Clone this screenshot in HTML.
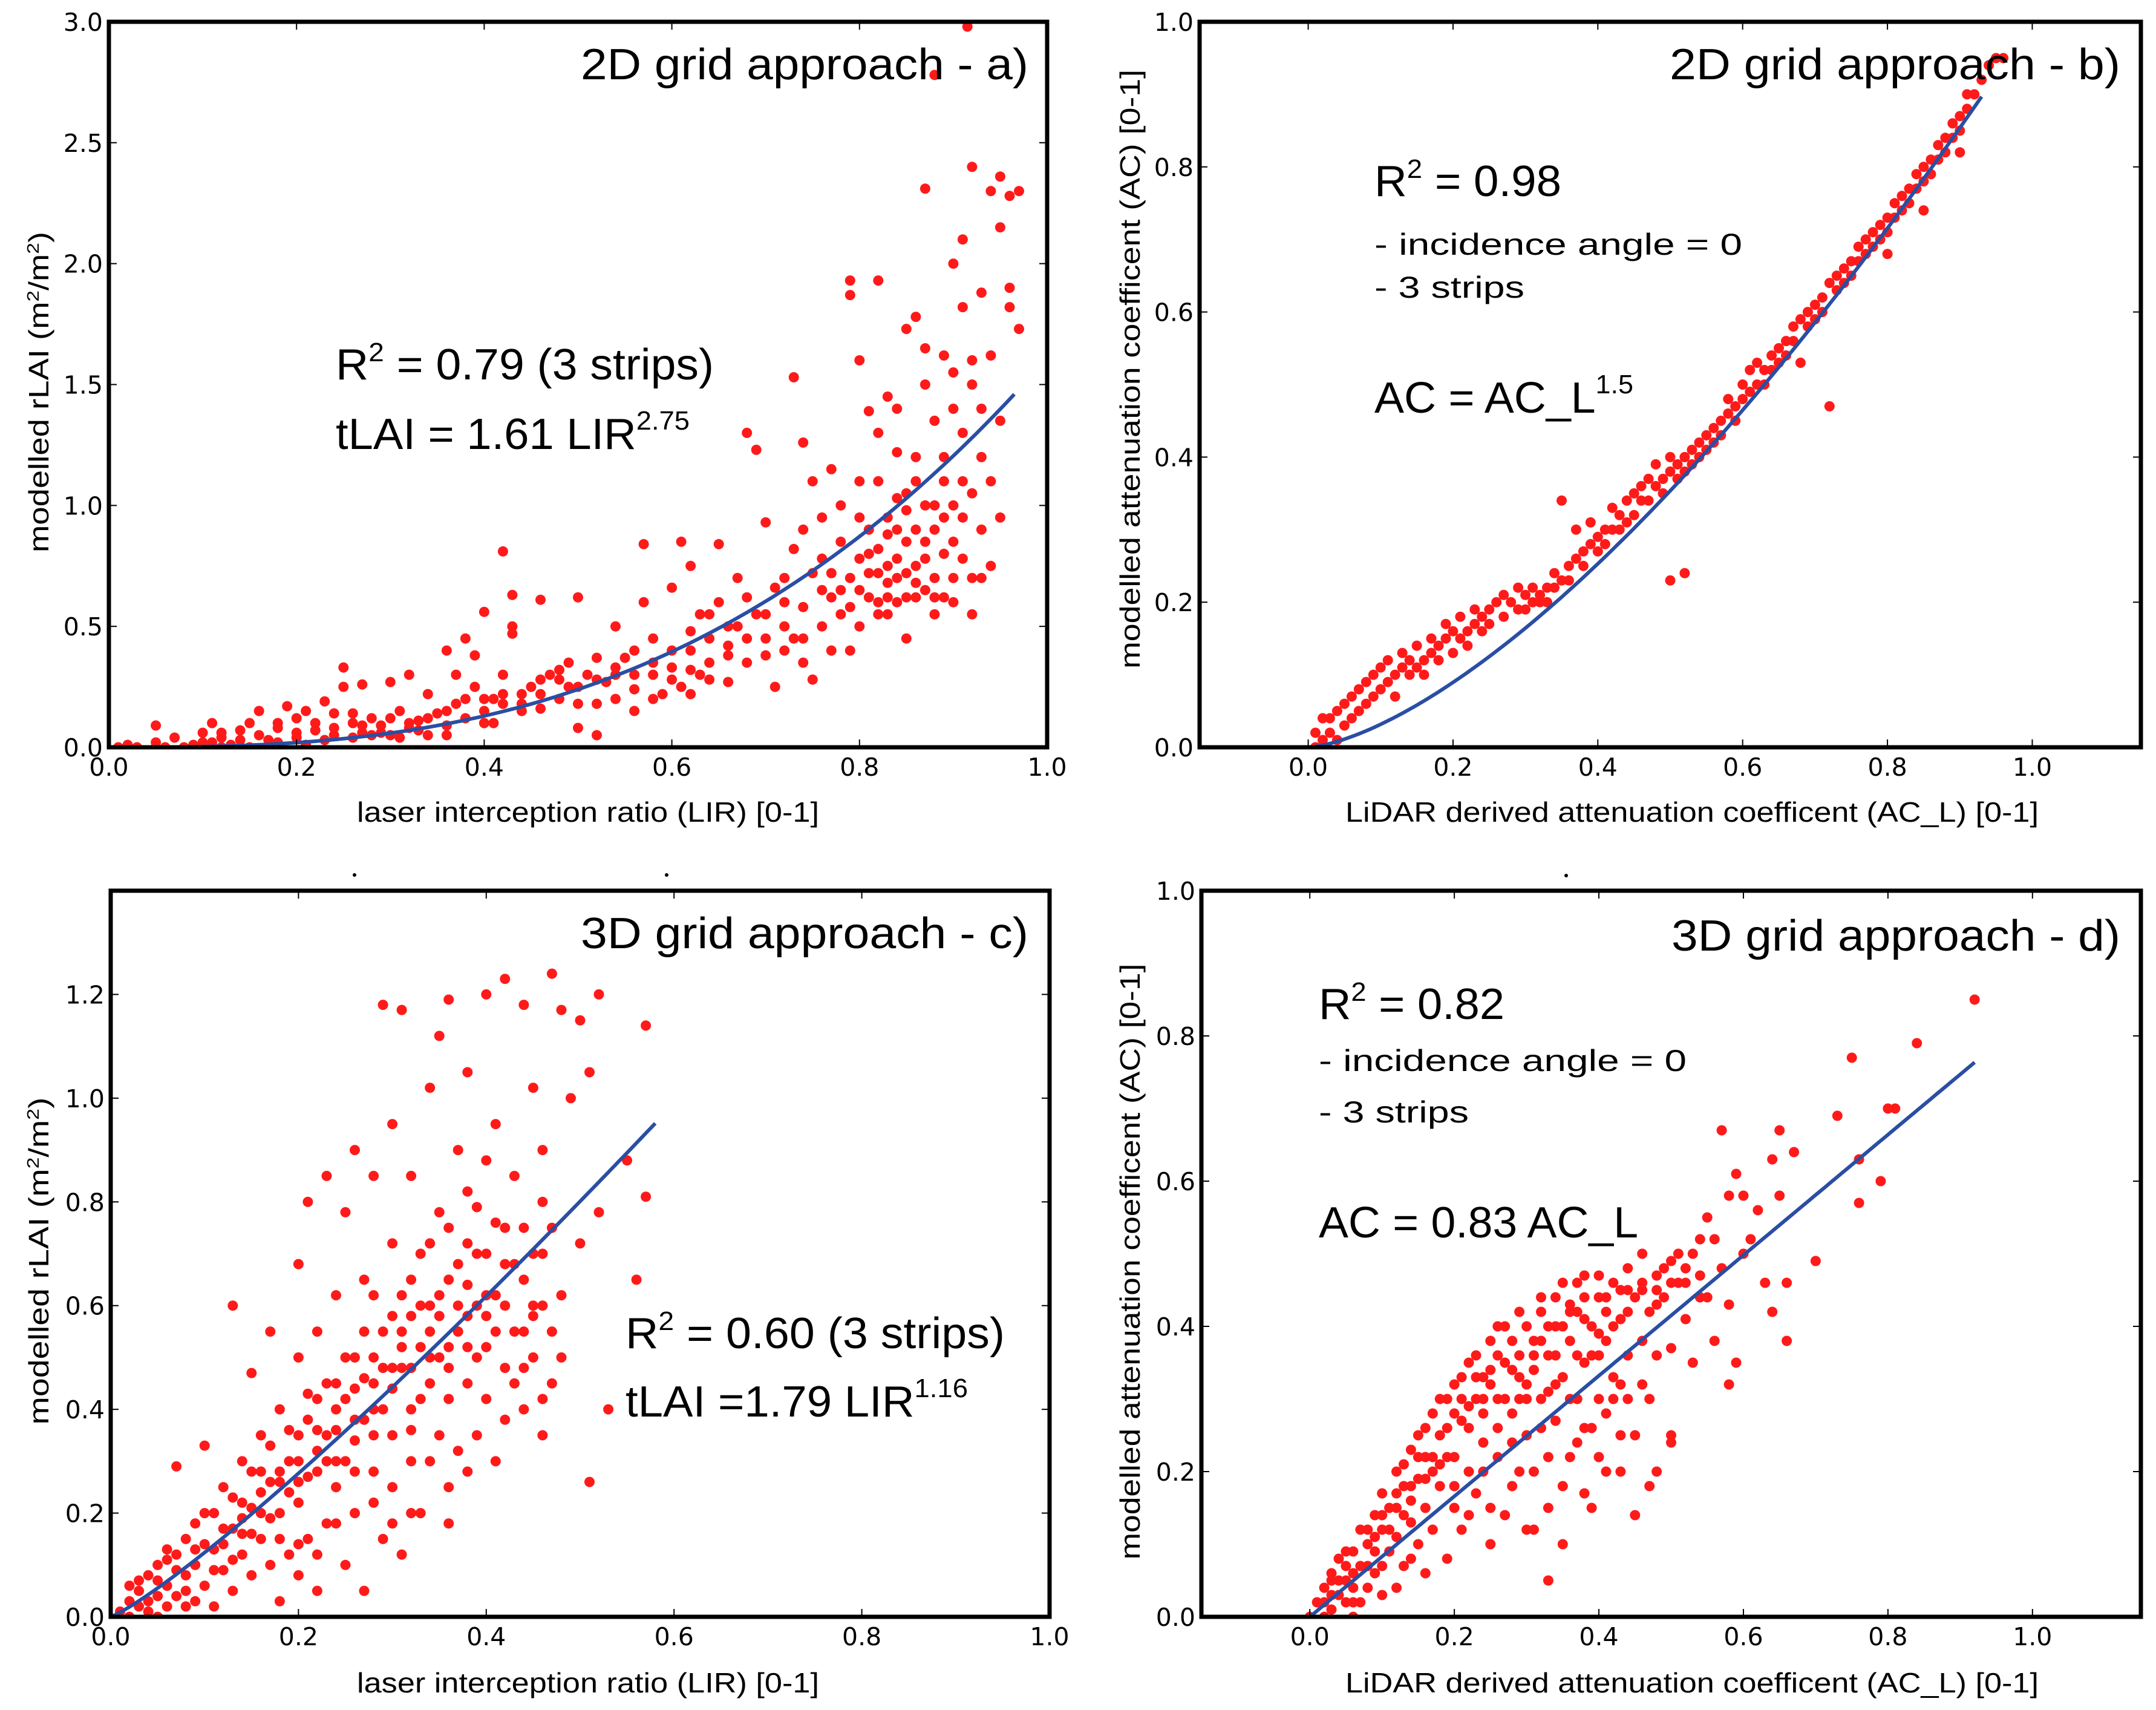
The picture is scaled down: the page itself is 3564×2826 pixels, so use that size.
<!DOCTYPE html>
<html><head><meta charset="utf-8"><style>
html,body{margin:0;padding:0;background:#fff;}
svg{display:block;}
.tk{font-family:"DejaVu Sans",sans-serif;font-size:41px;fill:#000;}
.lab{font-family:"Liberation Sans",sans-serif;font-size:46px;fill:#000;}
.big{font-family:"Liberation Sans",sans-serif;font-size:72px;fill:#000;}
.mid{font-family:"Liberation Sans",sans-serif;font-size:50px;fill:#000;}
</style></head><body>
<svg id="fig" width="3564" height="2826" viewBox="0 0 3564 2826" xmlns="http://www.w3.org/2000/svg">
<g id="layer"></g>
<circle cx="586" cy="1446" r="3" fill="#000"/>
<circle cx="1102" cy="1446" r="3" fill="#000"/>
<circle cx="2589" cy="1447" r="3" fill="#000"/>

<text class="big" x="1700" y="131" text-anchor="end" textLength="740" lengthAdjust="spacingAndGlyphs">2D grid approach - a)</text>
<text class="big" x="555" y="627" textLength="625" lengthAdjust="spacingAndGlyphs">R<tspan font-size="44" dy="-30">2</tspan><tspan dy="30"> = 0.79 (3 strips)</tspan></text>
<text class="big" x="555" y="742" textLength="585" lengthAdjust="spacingAndGlyphs">tLAI = 1.61 LIR<tspan font-size="44" dy="-32">2.75</tspan></text>
<text class="lab" x="972" y="1358" text-anchor="middle" textLength="764" lengthAdjust="spacingAndGlyphs">laser interception ratio (LIR) [0-1]</text>
<text class="lab" transform="translate(80,648) rotate(-90)" text-anchor="middle" textLength="530" lengthAdjust="spacingAndGlyphs">modelled  rLAI (m<tspan font-size="28" dy="-16">2</tspan><tspan dy="16">/m</tspan><tspan font-size="28" dy="-16">2</tspan><tspan dy="16">)</tspan></text>

<text class="big" x="3505" y="131" text-anchor="end" textLength="745" lengthAdjust="spacingAndGlyphs">2D grid approach - b)</text>
<text class="big" x="2272" y="324" textLength="309" lengthAdjust="spacingAndGlyphs">R<tspan font-size="44" dy="-30">2</tspan><tspan dy="30"> = 0.98</tspan></text>
<text class="mid" x="2272" y="421" textLength="608" lengthAdjust="spacingAndGlyphs">- incidence angle = 0</text>
<text class="mid" x="2272" y="492" textLength="248" lengthAdjust="spacingAndGlyphs">- 3 strips</text>
<text class="big" x="2272" y="682" textLength="428" lengthAdjust="spacingAndGlyphs">AC = AC_L<tspan font-size="44" dy="-32">1.5</tspan></text>
<text class="lab" x="2797" y="1358" text-anchor="middle" textLength="1146" lengthAdjust="spacingAndGlyphs">LiDAR derived attenuation coefficent (AC_L) [0-1]</text>
<text class="lab" transform="translate(1884,610) rotate(-90)" text-anchor="middle" textLength="990" lengthAdjust="spacingAndGlyphs">modelled attenuation coefficent (AC) [0-1]</text>

<text class="big" x="1700" y="1567" text-anchor="end" textLength="740" lengthAdjust="spacingAndGlyphs">3D grid approach - c)</text>
<text class="big" x="1034" y="2228" textLength="627" lengthAdjust="spacingAndGlyphs">R<tspan font-size="44" dy="-30">2</tspan><tspan dy="30"> = 0.60 (3 strips)</tspan></text>
<text class="big" x="1034" y="2341" textLength="566" lengthAdjust="spacingAndGlyphs">tLAI =1.79 LIR<tspan font-size="44" dy="-32">1.16</tspan></text>
<text class="lab" x="972" y="2797" text-anchor="middle" textLength="764" lengthAdjust="spacingAndGlyphs">laser interception ratio (LIR) [0-1]</text>
<text class="lab" transform="translate(80,2084) rotate(-90)" text-anchor="middle" textLength="541" lengthAdjust="spacingAndGlyphs">modelled rLAI (m<tspan font-size="28" dy="-16">2</tspan><tspan dy="16">/m</tspan><tspan font-size="28" dy="-16">2</tspan><tspan dy="16">)</tspan></text>

<text class="big" x="3505" y="1571" text-anchor="end" textLength="742" lengthAdjust="spacingAndGlyphs">3D grid approach - d)</text>
<text class="big" x="2180" y="1684" textLength="307" lengthAdjust="spacingAndGlyphs">R<tspan font-size="44" dy="-30">2</tspan><tspan dy="30"> = 0.82</tspan></text>
<text class="mid" x="2180" y="1770" textLength="608" lengthAdjust="spacingAndGlyphs">- incidence angle = 0</text>
<text class="mid" x="2180" y="1855" textLength="248" lengthAdjust="spacingAndGlyphs">- 3 strips</text>
<text class="big" x="2180" y="2045" textLength="528" lengthAdjust="spacingAndGlyphs">AC = 0.83 AC_L</text>
<text class="lab" x="2797" y="2797" text-anchor="middle" textLength="1146" lengthAdjust="spacingAndGlyphs">LiDAR derived attenuation coefficent (AC_L) [0-1]</text>
<text class="lab" transform="translate(1884,2085) rotate(-90)" text-anchor="middle" textLength="985" lengthAdjust="spacingAndGlyphs">modelled attenuation coefficent (AC) [0-1]</text>
</svg>
<script>
const xTicksA=[0,0.2,0.4,0.6,0.8,1.0];
const xTickLabelsA=["0.0","0.2","0.4","0.6","0.8","1.0"];
const yTicksA=[0,0.5,1.0,1.5,2.0,2.5,3.0];
const yTickLabelsA=["0.0","0.5","1.0","1.5","2.0","2.5","3.0"];
const yTicksC=[0,0.2,0.4,0.6,0.8,1.0,1.2];
const yTickLabelsC=["0.0","0.2","0.4","0.6","0.8","1.0","1.2"];
const yTicksB=[0,0.2,0.4,0.6,0.8,1.0];
const yTickLabelsB=["0.0","0.2","0.4","0.6","0.8","1.0"];
const fitA=[1.61,2.75,0.965];
const fitB=[1.0,1.5,0.93];
const fitC=[1.79,1.16,0.58];
const fitD=[0.83,1.0,0.92];

const pointsA=[[0.02,0.01],[0.03,0.0],[0.05,0.02],[0.05,0.09],[0.07,0.04],[0.08,0.0],[0.1,0.06],[0.11,0.02],[0.11,0.1],[0.12,0.04],[0.13,0.01],[0.14,0.07],[0.15,0.1],[0.16,0.15],[0.17,0.03],[0.18,0.08],[0.19,0.17],[0.2,0.12],[0.2,0.04],[0.21,0.15],[0.22,0.07],[0.23,0.19],[0.24,0.14],[0.24,0.05],[0.25,0.25],[0.25,0.33],[0.26,0.1],[0.27,0.26],[0.27,0.06],[0.28,0.12],[0.29,0.09],[0.3,0.05],[0.3,0.27],[0.31,0.15],[0.32,0.3],[0.32,0.08],[0.33,0.11],[0.34,0.22],[0.34,0.05],[0.35,0.14],[0.36,0.4],[0.36,0.09],[0.37,0.3],[0.37,0.18],[0.38,0.45],[0.38,0.12],[0.39,0.25],[0.39,0.38],[0.4,0.15],[0.4,0.56],[0.41,0.2],[0.41,0.1],[0.42,0.81],[0.42,0.3],[0.43,0.63],[0.43,0.5],[0.43,0.47],[0.44,0.22],[0.45,0.25],[0.46,0.61],[0.46,0.16],[0.47,0.3],[0.48,0.2],[0.49,0.35],[0.49,0.25],[0.5,0.62],[0.5,0.18],[0.5,0.08],[0.51,0.3],[0.52,0.05],[0.52,0.37],[0.53,0.27],[0.54,0.5],[0.54,0.2],[0.55,0.37],[0.56,0.3],[0.56,0.15],[0.57,0.84],[0.57,0.6],[0.58,0.45],[0.58,0.3],[0.59,0.22],[0.6,0.33],[0.6,0.66],[0.61,0.85],[0.61,0.25],[0.62,0.4],[0.62,0.75],[0.62,0.22],[0.63,0.55],[0.63,0.3],[0.64,0.35],[0.64,0.45],[0.65,0.84],[0.65,0.6],[0.66,0.38],[0.66,0.27],[0.67,0.5],[0.67,0.7],[0.68,0.35],[0.68,1.3],[0.69,1.23],[0.69,0.55],[0.7,0.93],[0.7,0.45],[0.71,0.25],[0.71,0.66],[0.72,0.5],[0.72,0.7],[0.73,1.53],[0.73,0.82],[0.73,0.45],[0.74,1.26],[0.74,0.35],[0.74,0.58],[0.75,1.1],[0.75,0.72],[0.75,0.28],[0.76,0.95],[0.76,0.5],[0.77,1.15],[0.77,0.62],[0.77,0.4],[0.78,0.85],[0.78,0.55],[0.78,1.0],[0.79,1.87],[0.79,1.93],[0.79,0.7],[0.79,0.4],[0.8,1.6],[0.8,1.1],[0.8,0.5],[0.81,1.39],[0.81,0.9],[0.81,0.72],[0.82,1.93],[0.82,0.6],[0.82,1.3],[0.83,1.45],[0.83,0.75],[0.83,0.55],[0.84,1.03],[0.84,0.7],[0.84,1.22],[0.85,1.73],[0.85,0.85],[0.85,0.45],[0.86,1.78],[0.86,0.75],[0.86,1.1],[0.87,2.31],[0.87,1.65],[0.87,0.65],[0.88,1.35],[0.88,0.9],[0.88,0.55],[0.89,1.62],[0.89,0.8],[0.89,1.2],[0.9,2.0],[0.9,1.55],[0.9,1.0],[0.9,0.7],[0.91,2.1],[0.91,1.82],[0.91,0.78],[0.91,1.3],[0.92,2.4],[0.92,1.5],[0.92,0.55],[0.92,1.05],[0.93,1.88],[0.93,0.9],[0.93,1.4],[0.94,2.3],[0.94,1.62],[0.94,0.75],[0.95,2.36],[0.95,2.15],[0.95,1.35],[0.95,0.95],[0.96,2.28],[0.96,1.9],[0.96,1.82],[0.97,2.3],[0.97,1.73],[0.93,0.7],[0.915,2.98],[0.88,2.78],[0.8,0.78],[0.81,0.62],[0.82,0.82],[0.83,0.68],[0.84,0.6],[0.85,0.72],[0.86,0.9],[0.87,0.78],[0.88,0.7],[0.89,0.62],[0.9,0.85],[0.82,0.72],[0.84,0.78],[0.86,0.62],[0.83,0.88],[0.85,0.98],[0.87,1.0],[0.89,1.1],[0.91,0.95],[0.79,0.58],[0.77,0.72],[0.76,0.65],[0.74,0.45],[0.72,0.4],[0.7,0.38],[0.68,0.45],[0.66,0.5],[0.64,0.28],[0.62,0.32],[0.6,0.28],[0.58,0.2],[0.56,0.24],[0.54,0.3],[0.52,0.18],[0.48,0.28],[0.46,0.22],[0.44,0.15],[0.42,0.18],[0.4,0.1],[0.36,0.05],[0.33,0.07],[0.31,0.04],[0.29,0.06],[0.27,0.09],[0.26,0.04],[0.23,0.03],[0.21,0.01],[0.18,0.02],[0.15,0.0],[0.12,0.0],[0.09,0.01],[0.06,0.0],[0.01,0.0],[0.8,0.65],[0.81,0.8],[0.82,0.55],[0.83,0.62],[0.84,0.9],[0.85,0.62],[0.86,0.68],[0.87,0.85],[0.88,0.62],[0.89,0.95],[0.9,0.6],[0.91,1.1],[0.92,0.7],[0.93,1.2],[0.94,1.1],[0.8,0.95],[0.78,0.65],[0.76,0.78],[0.74,0.9],[0.72,0.6],[0.7,0.55],[0.68,0.62],[0.66,0.42],[0.64,0.55],[0.62,0.48],[0.6,0.4],[0.58,0.35],[0.56,0.4],[0.54,0.33],[0.52,0.28],[0.5,0.25],[0.48,0.32],[0.46,0.28],[0.44,0.18],[0.42,0.22],[0.4,0.2],[0.38,0.2],[0.36,0.15],[0.34,0.12],[0.32,0.1],[0.3,0.12],[0.28,0.05],[0.26,0.14],[0.24,0.08],[0.22,0.1],[0.2,0.06],[0.18,0.1],[0.16,0.05],[0.14,0.03],[0.12,0.06],[0.1,0.02],[0.88,1.0],[0.86,1.2],[0.84,1.4],[0.82,1.1],[0.9,1.4],[0.92,1.6],[0.87,1.5],[0.83,0.95],[0.85,1.05]];

const pointsB=[[0.01,0.0],[0.01,0.02],[0.02,0.01],[0.02,0.04],[0.03,0.02],[0.03,0.04],[0.04,0.01],[0.04,0.05],[0.05,0.03],[0.05,0.06],[0.06,0.04],[0.06,0.07],[0.07,0.05],[0.07,0.08],[0.08,0.06],[0.08,0.09],[0.09,0.07],[0.09,0.1],[0.1,0.08],[0.1,0.11],[0.11,0.09],[0.11,0.12],[0.12,0.1],[0.12,0.07],[0.13,0.11],[0.13,0.13],[0.14,0.1],[0.14,0.12],[0.15,0.11],[0.15,0.14],[0.16,0.12],[0.16,0.1],[0.17,0.13],[0.17,0.15],[0.18,0.12],[0.18,0.14],[0.19,0.15],[0.19,0.17],[0.2,0.13],[0.2,0.16],[0.21,0.15],[0.21,0.18],[0.22,0.16],[0.22,0.14],[0.23,0.17],[0.23,0.19],[0.24,0.16],[0.24,0.18],[0.25,0.19],[0.25,0.17],[0.26,0.2],[0.27,0.18],[0.27,0.21],[0.28,0.2],[0.29,0.22],[0.29,0.19],[0.3,0.21],[0.3,0.19],[0.31,0.2],[0.31,0.22],[0.32,0.21],[0.32,0.2],[0.33,0.22],[0.33,0.2],[0.34,0.22],[0.34,0.24],[0.35,0.23],[0.35,0.34],[0.36,0.25],[0.36,0.23],[0.37,0.26],[0.37,0.3],[0.38,0.27],[0.38,0.25],[0.39,0.28],[0.39,0.31],[0.4,0.27],[0.4,0.29],[0.41,0.3],[0.41,0.28],[0.42,0.3],[0.42,0.33],[0.43,0.3],[0.43,0.32],[0.44,0.31],[0.44,0.34],[0.45,0.32],[0.45,0.35],[0.46,0.34],[0.46,0.36],[0.47,0.34],[0.47,0.37],[0.48,0.36],[0.48,0.39],[0.49,0.37],[0.49,0.35],[0.5,0.38],[0.5,0.4],[0.5,0.23],[0.52,0.24],[0.51,0.39],[0.51,0.37],[0.52,0.4],[0.52,0.38],[0.53,0.41],[0.53,0.39],[0.54,0.42],[0.54,0.4],[0.55,0.43],[0.55,0.41],[0.56,0.44],[0.56,0.42],[0.57,0.45],[0.57,0.43],[0.58,0.46],[0.58,0.48],[0.59,0.47],[0.59,0.45],[0.6,0.48],[0.6,0.5],[0.61,0.49],[0.61,0.52],[0.62,0.5],[0.62,0.53],[0.63,0.52],[0.63,0.5],[0.64,0.54],[0.64,0.52],[0.65,0.55],[0.65,0.53],[0.66,0.56],[0.66,0.54],[0.67,0.58],[0.67,0.56],[0.68,0.59],[0.68,0.53],[0.69,0.6],[0.69,0.58],[0.7,0.61],[0.7,0.59],[0.71,0.62],[0.71,0.6],[0.72,0.64],[0.72,0.47],[0.73,0.65],[0.73,0.63],[0.74,0.66],[0.74,0.64],[0.75,0.67],[0.75,0.65],[0.76,0.69],[0.76,0.67],[0.77,0.7],[0.77,0.68],[0.78,0.71],[0.78,0.69],[0.79,0.72],[0.79,0.7],[0.8,0.73],[0.8,0.71],[0.81,0.75],[0.81,0.73],[0.82,0.76],[0.82,0.74],[0.83,0.77],[0.83,0.75],[0.84,0.79],[0.84,0.77],[0.85,0.8],[0.85,0.78],[0.86,0.81],[0.86,0.79],[0.87,0.83],[0.87,0.81],[0.88,0.84],[0.88,0.82],[0.89,0.86],[0.89,0.84],[0.9,0.87],[0.9,0.85],[0.91,0.88],[0.91,0.9],[0.92,0.9],[0.93,0.92],[0.94,0.94],[0.95,0.95],[0.96,0.95],[0.8,0.68],[0.85,0.74],[0.9,0.82]];

const pointsC=[[0.01,0.01],[0.02,0.03],[0.02,0.0],[0.03,0.05],[0.03,0.02],[0.04,0.08],[0.04,0.01],[0.05,0.04],[0.05,0.1],[0.06,0.06],[0.06,0.02],[0.07,0.12],[0.07,0.29],[0.07,0.04],[0.08,0.08],[0.08,0.15],[0.09,0.03],[0.09,0.1],[0.1,0.2],[0.1,0.33],[0.1,0.06],[0.11,0.13],[0.11,0.02],[0.12,0.25],[0.12,0.09],[0.13,0.6],[0.13,0.17],[0.13,0.05],[0.14,0.3],[0.14,0.12],[0.15,0.47],[0.15,0.21],[0.15,0.08],[0.16,0.35],[0.16,0.15],[0.17,0.26],[0.17,0.55],[0.17,0.1],[0.18,0.4],[0.18,0.2],[0.18,0.03],[0.19,0.3],[0.19,0.12],[0.2,0.5],[0.2,0.68],[0.2,0.22],[0.2,0.08],[0.21,0.38],[0.21,0.15],[0.21,0.8],[0.22,0.28],[0.22,0.55],[0.22,0.05],[0.23,0.85],[0.23,0.35],[0.23,0.18],[0.24,0.45],[0.24,0.25],[0.24,0.62],[0.25,0.78],[0.25,0.1],[0.25,0.3],[0.26,0.9],[0.26,0.5],[0.26,0.2],[0.27,0.38],[0.27,0.65],[0.27,0.05],[0.28,0.85],[0.28,0.28],[0.28,0.45],[0.29,1.18],[0.29,0.55],[0.29,0.15],[0.3,0.35],[0.3,0.72],[0.3,0.95],[0.3,0.25],[0.31,1.17],[0.31,0.48],[0.31,0.62],[0.31,0.12],[0.32,0.85],[0.32,0.4],[0.32,0.3],[0.33,0.7],[0.33,0.52],[0.33,0.2],[0.34,1.02],[0.34,0.45],[0.34,0.6],[0.35,1.12],[0.35,0.35],[0.35,0.78],[0.35,0.5],[0.36,1.19],[0.36,0.65],[0.36,0.42],[0.36,0.25],[0.37,0.9],[0.37,0.55],[0.37,0.32],[0.38,1.05],[0.38,0.72],[0.38,0.45],[0.39,0.79],[0.39,0.6],[0.39,0.35],[0.4,1.2],[0.4,0.52],[0.4,0.7],[0.41,0.95],[0.41,0.62],[0.41,0.3],[0.42,1.23],[0.42,0.48],[0.42,0.75],[0.43,0.85],[0.43,0.55],[0.44,1.18],[0.44,0.65],[0.44,0.4],[0.45,1.02],[0.45,0.7],[0.45,0.5],[0.46,0.9],[0.46,0.6],[0.46,0.35],[0.47,1.24],[0.47,0.75],[0.47,0.45],[0.48,1.17],[0.48,0.62],[0.49,1.0],[0.5,1.15],[0.5,0.72],[0.51,1.05],[0.51,0.26],[0.52,1.2],[0.52,0.78],[0.53,0.4],[0.55,0.88],[0.57,1.14],[0.57,0.81],[0.56,0.65],[0.28,0.62],[0.32,0.58],[0.38,0.58],[0.03,0.07],[0.05,0.0],[0.06,0.11],[0.08,0.02],[0.09,0.13],[0.11,0.09],[0.12,0.17],[0.13,0.11],[0.14,0.22],[0.15,0.16],[0.16,0.24],[0.17,0.19],[0.18,0.28],[0.19,0.24],[0.2,0.3],[0.21,0.27],[0.22,0.36],[0.23,0.3],[0.24,0.36],[0.25,0.42],[0.26,0.38],[0.27,0.46],[0.28,0.4],[0.29,0.48],[0.3,0.44],[0.31,0.52],[0.32,0.48],[0.33,0.6],[0.34,0.55],[0.35,0.62],[0.36,0.52],[0.37,0.68],[0.38,0.64],[0.39,0.7],[0.4,0.62],[0.41,0.76],[0.42,0.6],[0.43,0.68],[0.44,0.55],[0.45,0.6],[0.46,0.7],[0.2,0.14],[0.22,0.12],[0.24,0.18],[0.26,0.28],[0.28,0.22],[0.3,0.18],[0.32,0.2],[0.34,0.3],[0.36,0.18],[0.38,0.28],[0.4,0.42],[0.42,0.38],[0.44,0.48],[0.46,0.42],[0.48,0.5],[0.02,0.06],[0.04,0.03],[0.05,0.07],[0.06,0.13],[0.07,0.09],[0.08,0.05],[0.09,0.18],[0.1,0.14],[0.11,0.2],[0.12,0.14],[0.13,0.23],[0.14,0.19],[0.15,0.28],[0.16,0.2],[0.17,0.33],[0.18,0.26],[0.19,0.36],[0.2,0.26],[0.21,0.43],[0.22,0.32],[0.23,0.45],[0.24,0.4],[0.25,0.5],[0.26,0.44],[0.27,0.55],[0.28,0.5],[0.29,0.4],[0.3,0.58],[0.31,0.55],[0.32,0.65],[0.33,0.42],[0.34,0.72],[0.35,0.58],[0.36,0.75],[0.37,0.6],[0.38,0.82],[0.39,0.5],[0.4,0.88],[0.41,0.55],[0.42,0.68],[0.43,0.45],[0.44,0.75],[0.45,0.58],[0.46,0.8],[0.47,0.55],[0.14,0.16],[0.16,0.28],[0.18,0.15],[0.2,0.35],[0.22,0.42],[0.24,0.3],[0.26,0.34],[0.28,0.35],[0.3,0.48],[0.32,0.36],[0.34,0.5],[0.36,0.48],[0.38,0.52],[0.4,0.58]];

const pointsD=[[0.0,0.0],[0.01,0.02],[0.02,0.0],[0.02,0.04],[0.03,0.01],[0.03,0.06],[0.04,0.03],[0.04,0.08],[0.05,0.02],[0.05,0.05],[0.06,0.09],[0.06,0.0],[0.07,0.07],[0.07,0.12],[0.08,0.04],[0.08,0.1],[0.09,0.14],[0.09,0.06],[0.1,0.12],[0.1,0.17],[0.1,0.03],[0.11,0.09],[0.11,0.15],[0.12,0.2],[0.12,0.11],[0.13,0.18],[0.13,0.07],[0.14,0.23],[0.14,0.13],[0.15,0.19],[0.15,0.25],[0.15,0.1],[0.16,0.22],[0.16,0.15],[0.17,0.28],[0.17,0.12],[0.18,0.25],[0.18,0.18],[0.19,0.3],[0.19,0.08],[0.2,0.22],[0.2,0.32],[0.2,0.15],[0.21,0.27],[0.21,0.12],[0.22,0.35],[0.22,0.2],[0.23,0.3],[0.23,0.17],[0.24,0.33],[0.24,0.24],[0.25,0.38],[0.25,0.15],[0.26,0.3],[0.26,0.22],[0.27,0.4],[0.27,0.35],[0.28,0.28],[0.28,0.18],[0.29,0.36],[0.29,0.42],[0.3,0.32],[0.3,0.25],[0.3,0.12],[0.31,0.38],[0.31,0.2],[0.32,0.44],[0.32,0.3],[0.33,0.36],[0.33,0.05],[0.33,0.15],[0.34,0.4],[0.34,0.27],[0.35,0.46],[0.35,0.33],[0.36,0.38],[0.36,0.22],[0.37,0.42],[0.37,0.3],[0.38,0.47],[0.38,0.35],[0.39,0.4],[0.39,0.15],[0.4,0.44],[0.4,0.3],[0.41,0.38],[0.41,0.2],[0.42,0.46],[0.42,0.33],[0.43,0.41],[0.43,0.25],[0.44,0.48],[0.44,0.36],[0.45,0.44],[0.45,0.14],[0.46,0.5],[0.46,0.38],[0.47,0.42],[0.47,0.3],[0.48,0.47],[0.48,0.2],[0.49,0.44],[0.5,0.49],[0.5,0.37],[0.5,0.25],[0.51,0.46],[0.52,0.41],[0.53,0.5],[0.53,0.35],[0.54,0.47],[0.55,0.55],[0.55,0.44],[0.56,0.52],[0.56,0.38],[0.57,0.67],[0.57,0.48],[0.58,0.58],[0.58,0.43],[0.59,0.61],[0.59,0.35],[0.6,0.5],[0.6,0.58],[0.61,0.52],[0.62,0.56],[0.63,0.46],[0.64,0.63],[0.64,0.42],[0.65,0.67],[0.65,0.58],[0.66,0.38],[0.66,0.46],[0.67,0.64],[0.7,0.49],[0.73,0.69],[0.75,0.77],[0.76,0.63],[0.76,0.57],[0.79,0.6],[0.8,0.7],[0.81,0.7],[0.84,0.79],[0.92,0.85],[0.58,0.32],[0.45,0.25],[0.47,0.18],[0.5,0.24],[0.02,0.02],[0.03,0.03],[0.04,0.05],[0.05,0.07],[0.06,0.04],[0.07,0.02],[0.08,0.07],[0.09,0.11],[0.11,0.12],[0.12,0.15],[0.13,0.14],[0.14,0.18],[0.16,0.19],[0.17,0.22],[0.18,0.21],[0.19,0.26],[0.21,0.3],[0.22,0.26],[0.23,0.33],[0.24,0.28],[0.25,0.32],[0.26,0.36],[0.28,0.34],[0.29,0.3],[0.31,0.34],[0.32,0.38],[0.33,0.31],[0.34,0.36],[0.35,0.4],[0.36,0.43],[0.37,0.36],[0.38,0.41],[0.4,0.39],[0.41,0.42],[0.43,0.45],[0.44,0.42],[0.46,0.45],[0.48,0.43],[0.49,0.48],[0.51,0.5],[0.52,0.46],[0.54,0.52],[0.25,0.1],[0.27,0.14],[0.29,0.2],[0.31,0.12],[0.33,0.22],[0.35,0.18],[0.37,0.24],[0.39,0.26],[0.41,0.28],[0.43,0.32],[0.06,0.02],[0.1,0.07],[0.12,0.04],[0.14,0.08],[0.16,0.06],[0.03,0.05],[0.05,0.09],[0.06,0.06],[0.08,0.12],[0.09,0.09],[0.1,0.14],[0.12,0.17],[0.13,0.21],[0.14,0.16],[0.15,0.22],[0.16,0.26],[0.17,0.2],[0.18,0.3],[0.19,0.22],[0.2,0.28],[0.21,0.33],[0.22,0.29],[0.23,0.36],[0.24,0.3],[0.25,0.34],[0.26,0.4],[0.27,0.3],[0.28,0.38],[0.29,0.33],[0.3,0.4],[0.31,0.36],[0.32,0.42],[0.33,0.4],[0.34,0.44],[0.35,0.4],[0.36,0.42],[0.37,0.46],[0.38,0.44],[0.39,0.36],[0.4,0.47],[0.41,0.44],[0.42,0.4],[0.44,0.45],[0.46,0.46],[0.48,0.45],[0.5,0.46],[0.52,0.48],[0.54,0.44],[0.2,0.18],[0.22,0.14],[0.24,0.2],[0.26,0.26],[0.28,0.24],[0.3,0.3],[0.32,0.26],[0.34,0.32],[0.36,0.3],[0.38,0.26],[0.4,0.36],[0.42,0.3],[0.44,0.3],[0.46,0.32],[0.48,0.36],[0.35,0.1],[0.4,0.22],[0.43,0.2],[0.38,0.17]];

const panels=[
 {id:'a',L:180,R:1731,T:36,B:1235,x0:0,x1:1,y0:0,y1:3,xt:xTicksA,xl:xTickLabelsA,yt:yTicksA,yl:yTickLabelsA,pts:pointsA,fit:fitA},
 {id:'b',L:1983,R:3539,T:36,B:1235,x0:-0.15,x1:1.15,y0:0,y1:1,xt:xTicksA,xl:xTickLabelsA,yt:yTicksB,yl:yTickLabelsB,pts:pointsB,fit:fitB},
 {id:'c',L:183,R:1735,T:1472,B:2672,x0:0,x1:1,y0:0,y1:1.4,xt:xTicksA,xl:xTickLabelsA,yt:yTicksC,yl:yTickLabelsC,pts:pointsC,fit:fitC},
 {id:'d',L:1986,R:3539,T:1472,B:2672,x0:-0.15,x1:1.15,y0:0,y1:1,xt:xTicksA,xl:xTickLabelsA,yt:yTicksB,yl:yTickLabelsB,pts:pointsD,fit:fitD}
];
const NS='http://www.w3.org/2000/svg';
const layer=document.getElementById('layer');
function mk(tag,attrs,parent){const e=document.createElementNS(NS,tag);for(const k in attrs)e.setAttribute(k,attrs[k]);parent.appendChild(e);return e;}
panels.forEach(p=>{
 const sx=v=>p.L+(v-p.x0)/(p.x1-p.x0)*(p.R-p.L);
 const sy=v=>p.B-(v-p.y0)/(p.y1-p.y0)*(p.B-p.T);
 const g=mk('g',{},layer);
 
 
 const clipId='clip'+p.id;
 const cp=mk('clipPath',{id:clipId},g);
 mk('rect',{x:p.L,y:p.T,width:p.R-p.L,height:p.B-p.T},cp);
 const pg=mk('g',{'clip-path':'url(#'+clipId+')'},g);
 
 
 p.pts.forEach(pt=>{
  const c=mk('circle',{cx:sx(pt[0]).toFixed(1),cy:sy(pt[1]).toFixed(1),r:8.5,fill:'#ff1a1a'},pg);
  
  
 });
 let d='';
 for(let i=0;i<=120;i++){const x=p.fit[2]*i/120;const y=p.fit[0]*Math.pow(x,p.fit[1]);d+=(i?'L':'M')+sx(x).toFixed(1)+' '+sy(y).toFixed(1);}
 const fl=mk('path',{d:d,fill:'none',stroke:'#2a4ea3','stroke-width':6},pg);
 
 
 p.xt.forEach((v,i)=>{
  const x=sx(v);
  mk('line',{x1:x,y1:p.B,x2:x,y2:p.B-13,stroke:'#000','stroke-width':2},g);
  mk('line',{x1:x,y1:p.T,x2:x,y2:p.T+13,stroke:'#000','stroke-width':2},g);
  const t=mk('text',{x:x,y:p.B+47,'text-anchor':'middle','class':'tk'},g);
  
  
  t.textContent=p.xl[i];
 });
 p.yt.forEach((v,i)=>{
  const y=sy(v);
  mk('line',{x1:p.L,y1:y,x2:p.L+13,y2:y,stroke:'#000','stroke-width':2},g);
  mk('line',{x1:p.R,y1:y,x2:p.R-13,y2:y,stroke:'#000','stroke-width':2},g);
  const t=mk('text',{x:p.L-10,y:y+15,'text-anchor':'end','class':'tk'},g);
  
  
  t.textContent=p.yl[i];
 });
 const fr=mk('rect',{x:p.L,y:p.T,width:p.R-p.L,height:p.B-p.T,fill:'none',stroke:'#000','stroke-width':7},g);
 
 
});
</script>
</body></html>
